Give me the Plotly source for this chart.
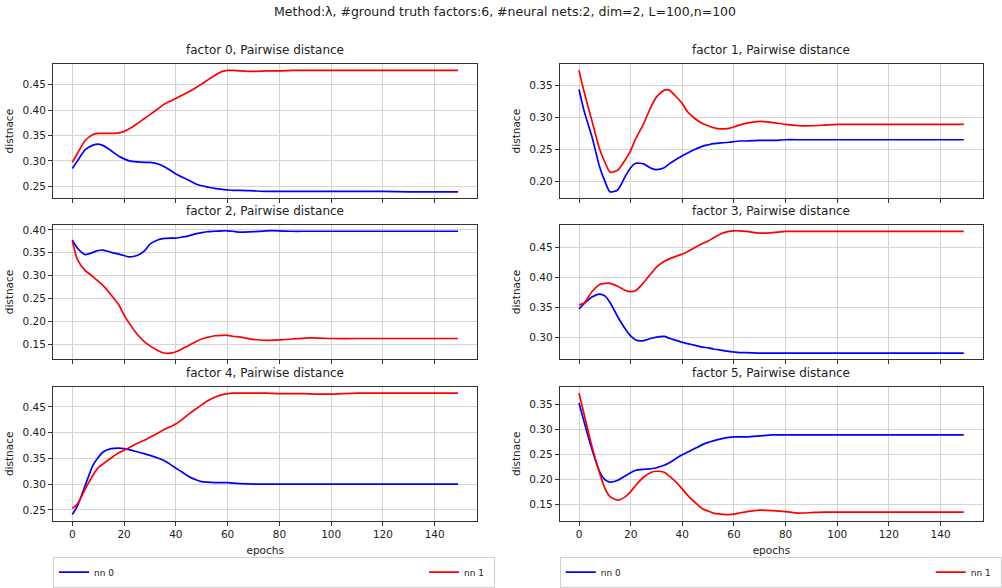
import plotly.graph_objects as go
from plotly.subplots import make_subplots

# ---------------- data ----------------
epochs = [0, 2, 5, 8, 10, 12, 15, 18, 20, 22, 25, 28, 30, 33, 35, 38, 40, 42, 45, 48,
          50, 52, 55, 58, 60, 62, 65, 70, 75, 80, 85, 90, 95, 100, 110, 120, 130, 140, 149]

f0_nn0 = [0.285, 0.300, 0.322, 0.331, 0.333, 0.330, 0.320, 0.309, 0.304, 0.300,
          0.298, 0.297, 0.297, 0.294, 0.290, 0.281, 0.274, 0.269, 0.262, 0.254,
          0.251, 0.249, 0.246, 0.244, 0.243, 0.242, 0.242, 0.241, 0.240, 0.240,
          0.240, 0.240, 0.240, 0.240, 0.240, 0.240, 0.239, 0.239, 0.239]
f0_nn1 = [0.297, 0.315, 0.340, 0.352, 0.354, 0.354, 0.354, 0.355, 0.358, 0.363,
          0.373, 0.384, 0.391, 0.402, 0.410, 0.418, 0.423, 0.428, 0.436, 0.445,
          0.451, 0.458, 0.468, 0.476, 0.478, 0.478, 0.477, 0.476, 0.477, 0.477,
          0.478, 0.478, 0.478, 0.478, 0.478, 0.478, 0.478, 0.478, 0.478]

f1_nn0 = [0.344, 0.310, 0.270, 0.222, 0.200, 0.183, 0.186, 0.208, 0.221, 0.228,
          0.227, 0.220, 0.218, 0.221, 0.227, 0.235, 0.240, 0.244, 0.250, 0.255,
          0.257, 0.259, 0.260, 0.261, 0.262, 0.263, 0.263, 0.264, 0.264, 0.265,
          0.265, 0.265, 0.265, 0.265, 0.265, 0.265, 0.265, 0.265, 0.265]
f1_nn1 = [0.374, 0.340, 0.295, 0.250, 0.230, 0.214, 0.217, 0.234, 0.248, 0.267,
          0.290, 0.318, 0.332, 0.343, 0.343, 0.331, 0.322, 0.309, 0.298, 0.290,
          0.287, 0.284, 0.282, 0.283, 0.285, 0.288, 0.291, 0.294, 0.292, 0.289,
          0.287, 0.287, 0.288, 0.289, 0.289, 0.289, 0.289, 0.289, 0.289]

f2_nn0 = [0.378, 0.360, 0.346, 0.351, 0.355, 0.356, 0.351, 0.347, 0.344, 0.341,
          0.344, 0.355, 0.369, 0.378, 0.381, 0.382, 0.382, 0.384, 0.387, 0.392,
          0.394, 0.396, 0.397, 0.398, 0.398, 0.397, 0.395, 0.396, 0.398, 0.398,
          0.397, 0.397, 0.397, 0.397, 0.397, 0.397, 0.397, 0.397, 0.397]
f2_nn1 = [0.376, 0.335, 0.311, 0.298, 0.288, 0.278, 0.258, 0.236, 0.214, 0.196,
          0.173, 0.155, 0.147, 0.137, 0.132, 0.131, 0.134, 0.139, 0.148, 0.157,
          0.162, 0.165, 0.169, 0.170, 0.170, 0.168, 0.166, 0.161, 0.159, 0.160,
          0.162, 0.164, 0.164, 0.163, 0.163, 0.163, 0.163, 0.163, 0.163]

f3_nn0 = [0.347, 0.356, 0.367, 0.372, 0.369, 0.358, 0.334, 0.313, 0.302, 0.295,
          0.294, 0.298, 0.300, 0.301, 0.298, 0.294, 0.291, 0.289, 0.286, 0.283,
          0.282, 0.280, 0.278, 0.276, 0.275, 0.274, 0.274, 0.273, 0.273, 0.273,
          0.273, 0.273, 0.273, 0.273, 0.273, 0.273, 0.273, 0.273, 0.273]
f3_nn1 = [0.354, 0.357, 0.376, 0.388, 0.390, 0.390, 0.385, 0.378, 0.376, 0.378,
          0.391, 0.407, 0.417, 0.427, 0.431, 0.436, 0.439, 0.443, 0.450, 0.457,
          0.461, 0.466, 0.473, 0.477, 0.478, 0.478, 0.477, 0.474, 0.475, 0.477,
          0.477, 0.477, 0.477, 0.477, 0.477, 0.477, 0.477, 0.477, 0.477]

f4_nn0 = [0.241, 0.258, 0.298, 0.337, 0.352, 0.363, 0.369, 0.370, 0.369, 0.367,
          0.363, 0.359, 0.356, 0.351, 0.347, 0.338, 0.331, 0.325, 0.315, 0.308,
          0.305, 0.304, 0.303, 0.303, 0.303, 0.302, 0.301, 0.300, 0.300, 0.300,
          0.300, 0.300, 0.300, 0.300, 0.300, 0.300, 0.300, 0.300, 0.300]
f4_nn1 = [0.253, 0.262, 0.291, 0.318, 0.332, 0.340, 0.351, 0.361, 0.366, 0.371,
          0.379, 0.386, 0.391, 0.399, 0.405, 0.412, 0.417, 0.424, 0.436, 0.447,
          0.454, 0.461, 0.469, 0.474, 0.476, 0.477, 0.477, 0.477, 0.477, 0.476,
          0.476, 0.476, 0.475, 0.475, 0.477, 0.477, 0.477, 0.477, 0.477]

f5_nn0 = [0.353, 0.315, 0.260, 0.215, 0.199, 0.194, 0.198, 0.207, 0.213, 0.218,
          0.220, 0.221, 0.223, 0.228, 0.233, 0.243, 0.249, 0.254, 0.262, 0.270,
          0.274, 0.277, 0.281, 0.284, 0.285, 0.285, 0.285, 0.287, 0.289, 0.289,
          0.289, 0.289, 0.289, 0.289, 0.289, 0.289, 0.289, 0.289, 0.289]
f5_nn1 = [0.373, 0.330, 0.266, 0.212, 0.182, 0.165, 0.158, 0.165, 0.175, 0.188,
          0.204, 0.214, 0.216, 0.214, 0.206, 0.192, 0.180, 0.168, 0.153, 0.140,
          0.136, 0.132, 0.130, 0.129, 0.130, 0.132, 0.135, 0.138, 0.137, 0.135,
          0.132, 0.133, 0.134, 0.134, 0.134, 0.134, 0.134, 0.134, 0.134]

factors = [(f0_nn0, f0_nn1), (f1_nn0, f1_nn1), (f2_nn0, f2_nn1),
           (f3_nn0, f3_nn1), (f4_nn0, f4_nn1), (f5_nn0, f5_nn1)]
series_names = ["nn 0", "nn 1"]
series_colors = ["#0000ff", "#ff0000"]
panel_titles = [f"factor {k}, Pairwise distance" for k in range(6)]
suptitle = "Method:\u03bb, #ground truth factors:6, #neural nets:2, dim=2, L=100,n=100"
x_label = "epochs"
y_label = "distnace"

# ---------------- layout geometry (pixels) ----------------
W, H = 1002, 588
col_px = [(54, 486), (570, 1001)]
row_px = [(65, 200), (227, 363), (391, 526)]
FONT = "DejaVu Sans"
TXT = "#222222"
legend_entry_w = [325, 25]

fig = make_subplots(rows=3, cols=2)

for k, (s0, s1) in enumerate(factors):
    r, c = k // 2, k % 2
    for j, ys in enumerate((s0, s1)):
        fig.add_trace(
            go.Scatter(
                x=epochs, y=ys, mode="lines", name=series_names[j],
                line=dict(color=series_colors[j], width=1.7, shape="spline", smoothing=0.6),
                showlegend=(k in (4, 5)),
                legend="legend" if c == 0 else "legend2",
                legendwidth=legend_entry_w[j],
                hoverinfo="skip",
            ),
            row=r + 1, col=c + 1,
        )
    n = "" if k == 0 else str(k + 1)
    x0, x1 = col_px[c]
    top, bot = row_px[r]
    ymin = min(min(s0), min(s1))
    ymax = max(max(s0), max(s1))
    pad = 0.05 * (ymax - ymin)
    fig.layout["xaxis" + n].update(
        domain=[x0 / W, x1 / W], range=[-7.45, 156.45], tick0=0, dtick=20,
        automargin=False,
        showgrid=True, gridcolor="#d4d4d4", gridwidth=1, zeroline=False,
        showline=True, linecolor="#333333", linewidth=1, mirror=True,
        ticks="outside", ticklen=4, tickcolor="#333333",
        showticklabels=(r == 2), tickfont=dict(size=10.5, color=TXT, family=FONT),
        title=dict(text=x_label if r == 2 else "", font=dict(size=10.5, color=TXT, family=FONT), standoff=7),
    )
    fig.layout["yaxis" + n].update(
        domain=[(H - bot) / H, (H - top) / H], range=[ymin - pad, ymax + pad],
        tick0=0, dtick=0.05, tickformat=".2f", automargin=False,
        showgrid=True, gridcolor="#d4d4d4", gridwidth=1, zeroline=False,
        showline=True, linecolor="#333333", linewidth=1, mirror=True,
        ticks="outside", ticklen=4, tickcolor="#333333",
        tickfont=dict(size=10.5, color=TXT, family=FONT),
        title=dict(text=y_label, font=dict(size=10.5, color=TXT, family=FONT), standoff=6),
    )
    fig.add_annotation(
        text=panel_titles[k], xref="paper", yref="paper",
        x=(x0 + x1) / 2 / W, y=(H - top) / H, xanchor="center", yanchor="bottom",
        yshift=5, showarrow=False, font=dict(size=12, color=TXT, family=FONT),
    )

fig.add_annotation(
    text=suptitle, xref="paper", yref="paper", x=514 / W, y=(H - 12) / H,
    xanchor="center", yanchor="middle", showarrow=False,
    font=dict(size=12.5, color=TXT, family=FONT),
)

legend_common = dict(
    orientation="h", yanchor="middle", xanchor="left", y=(H - 578) / H,
    bgcolor="white", bordercolor="#d0d0d0", borderwidth=1,
    font=dict(size=9, color=TXT, family=FONT), itemwidth=30,
)
fig.update_layout(
    width=W, height=H,
    margin=dict(l=0, r=0, t=0, b=0),
    paper_bgcolor="white", plot_bgcolor="white",
    font=dict(family=FONT, color=TXT),
    legend=dict(x=col_px[0][0] / W, **legend_common),
    legend2=dict(x=col_px[1][0] / W, **legend_common),
)

fig.write_html("out.html")
